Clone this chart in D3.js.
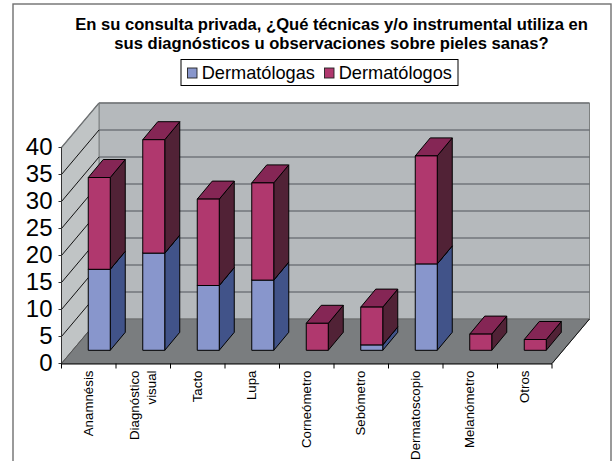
<!DOCTYPE html>
<html><head><meta charset="utf-8">
<script src="https://cdnjs.cloudflare.com/ajax/libs/d3/7.8.5/d3.min.js"></script>
<style>html,body{margin:0;padding:0;background:#fff}svg{display:block}text{font-family:"Liberation Sans",Arial,sans-serif}</style>
</head><body><svg id="c" width="612" height="461"></svg>
<script>
const categories=[["Anamnésis"],["Diagnóstico","visual"],["Tacto"],["Lupa"],["Corneómetro"],["Sebómetro"],["Dermatoscopio"],["Melanómetro"],["Otros"]];
const dermatologas=[15,18,12,13,0,1,16,0,0];
const dermatologos=[17,21,16,18,5,7,20,3,2];
const seriesNames=["Dermatólogas","Dermatólogos"];
const yTicks=[0,5,10,15,20,25,30,35,40];
const titleLines=["En su consulta privada, ¿Qué técnicas y/o instrumental utiliza en","sus diagnósticos u observaciones sobre pieles sanas?"];
const colors=[{front:"#8896cc",side:"#415389",top:"#5f72ac"},{front:"#b0386e",side:"#512236",top:"#852655"}];

const svg=d3.select("#c");
const x=d3.scaleBand().domain(d3.range(categories.length)).range([61.5,552]).paddingInner(0).paddingOuter(0);
const y=d3.scaleLinear().domain([0,40]).range([363.5,147.5]);
const wall={dx:37.5,dy:-44.5}, barOff={dx:10.5,dy:-13.2}, barDepth={dx:15,dy:-18}, barW=22;
const L=x.range()[0],R=x.range()[1];
const poly=(pts,fill,stroke,sw)=>svg.append("polygon").attr("points",pts.map(p=>p.join(",")).join(" ")).attr("fill",fill).attr("stroke",stroke||"none").attr("stroke-width",sw||0).attr("stroke-linejoin","round");

// frame
svg.append("rect").attr("x",13).attr("y",4).attr("width",598).attr("height",470).attr("fill","#fff").attr("stroke","#707070").attr("stroke-width",1.4);

// title
svg.append("g").selectAll("text").data(titleLines).join("text").attr("x",331.5).attr("y",(d,i)=>30+i*19.2)
  .attr("text-anchor","middle").attr("font-size",16.6).attr("font-weight","bold").attr("fill","#000").text(d=>d);

// legend
svg.append("rect").attr("x",181).attr("y",59.5).attr("width",277).attr("height",26).attr("fill","#fff").attr("stroke","#000").attr("stroke-width",1);
const lg=svg.append("g");
[187,324].forEach((lx,i)=>{
  lg.append("rect").attr("x",lx+.5).attr("y",68).attr("width",9.5).attr("height",10).attr("fill",colors[i].front).attr("stroke","#222").attr("stroke-width",0.9);
  lg.append("text").attr("x",lx+14.7).attr("y",78.5).attr("font-size",18.2).attr("fill","#000").text(seriesNames[i]);
});

// walls
const y0=y(0),y40=y(40);
poly([[L+wall.dx,y0+wall.dy],[R+wall.dx,y0+wall.dy],[R+wall.dx,y40+wall.dy],[L+wall.dx,y40+wall.dy]],"#b5b9bc","#7d8080",1);
poly([[L,y0],[L+wall.dx,y0+wall.dy],[L+wall.dx,y40+wall.dy],[L,y40]],"#c0c4c5","#7d8080",1);
poly([[L,y0],[R,y0],[R+wall.dx,y0+wall.dy],[L+wall.dx,y0+wall.dy]],"#7a7d7f","#6a6d6f",1);
// grid
yTicks.filter(t=>t>0).forEach(t=>{
  const g=t<40;
  svg.append("line").attr("x1",L+wall.dx).attr("x2",R+wall.dx).attr("y1",y(t)+wall.dy).attr("y2",y(t)+wall.dy).attr("stroke",g?"#50545a":"#74777a").attr("stroke-width",g?1.2:1.4);
  if(g) svg.append("line").attr("x1",L).attr("x2",L+wall.dx).attr("y1",y(t)).attr("y2",y(t)+wall.dy).attr("stroke","#111").attr("stroke-width",1);
});
svg.append("line").attr("x1",L).attr("x2",L+wall.dx).attr("y1",y(40)).attr("y2",y(40)+wall.dy).attr("stroke","#6f7274").attr("stroke-width",1.2);
svg.append("line").attr("x1",R).attr("x2",R+wall.dx).attr("y1",y0).attr("y2",y0+wall.dy).attr("stroke","#111").attr("stroke-width",1);
svg.append("line").attr("x1",L).attr("x2",L+wall.dx).attr("y1",y0).attr("y2",y0+wall.dy).attr("stroke","#555").attr("stroke-width",1);

// bars
const ed="#000";
function box(i,v0,v1,c){
  const xa=x(i)+(x.bandwidth()-barW)/2+barOff.dx, xb=xa+barW;
  const a=y(v0)+barOff.dy, b=y(v1)+barOff.dy, d=barDepth;
  poly([[xb,a],[xb+d.dx,a+d.dy],[xb+d.dx,b+d.dy],[xb,b]],c.side,ed,1);
  poly([[xa,b],[xb,b],[xb+d.dx,b+d.dy],[xa+d.dx,b+d.dy]],c.top,ed,1);
  poly([[xa,a],[xb,a],[xb,b],[xa,b]],c.front,ed,1);
}
categories.forEach((c,i)=>{
  const f=dermatologas[i],m=dermatologos[i];
  if(f>0) box(i,0,f,colors[0]);
  if(m>0) box(i,f,f+m,colors[1]);
});

// y axis
const ya=svg.append("g");
ya.append("line").attr("x1",L).attr("x2",L).attr("y1",y40).attr("y2",y0).attr("stroke","#333").attr("stroke-width",1);
yTicks.forEach(t=>{
  ya.append("line").attr("x1",L-3).attr("x2",L).attr("y1",y(t)).attr("y2",y(t)).attr("stroke","#333");
  ya.append("text").attr("x",52.5).attr("y",y(t)+7.8).attr("text-anchor","end").attr("font-size",24).attr("fill","#000").text(t);
});
// x axis
svg.append("line").attr("x1",L).attr("x2",R).attr("y1",y0+.5).attr("y2",y0+.5).attr("stroke","#000").attr("stroke-width",1.2);
d3.range(categories.length+1).forEach(i=>{
  const tx=L+i*x.bandwidth();
  svg.append("line").attr("x1",tx).attr("x2",tx).attr("y1",y0).attr("y2",y0+5).attr("stroke","#000");
});
categories.forEach((c,i)=>{
  const cx=x(i)+x.bandwidth()/2-0.5;
  const t=svg.append("text").attr("transform",`translate(${cx},370.5) rotate(-90)`).attr("text-anchor","end").attr("font-size",13.3).attr("fill","#000");
  c.forEach((ln,k)=>t.append("tspan").attr("x",0).attr("y",(k-(c.length-1)/2)*16.7+4.5).text(ln));
});
</script></body></html>
